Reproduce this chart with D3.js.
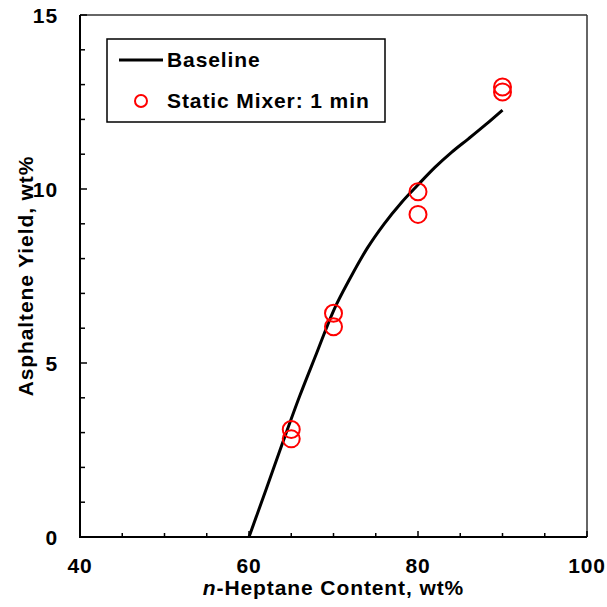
<!DOCTYPE html>
<html>
<head>
<meta charset="utf-8">
<script src="https://cdn.jsdelivr.net/npm/d3@7"></script>
<style>
  html, body { margin: 0; padding: 0; background: #fff; }
  svg { display: block; }
  text { font-family: "Liberation Sans", Arial, sans-serif; font-weight: bold; fill: #000;
         font-size: 21px; letter-spacing: 0.9px; }
</style>
</head>
<body>
<svg id="chart" width="607" height="607"></svg>
<script>
// Baseline yield curve (n-heptane wt%, asphaltene yield wt%)
const baselineX = [60, 62, 64, 66, 68, 70, 72, 74, 76, 78, 80, 82, 84, 86, 88, 90];
const baselineY = [0, 1.35, 2.72, 4.05, 5.28, 6.5, 7.45, 8.3, 9.0, 9.6, 10.12, 10.62, 11.06, 11.45, 11.85, 12.27];

// Static mixer (1 min) measurements
const mixerX = [65, 65, 70, 70, 80, 80, 90, 90];
const mixerY = [3.09, 2.82, 6.43, 6.04, 9.92, 9.27, 12.93, 12.79];

// Axis ticks
const xMajorTicks = [40, 60, 80, 100];
const xMinorTicks = [45, 50, 55, 65, 70, 75, 85, 90, 95];
const yMajorTicks = [0, 5, 10, 15];
const yMinorTicks = [1, 2, 3, 4, 6, 7, 8, 9, 11, 12, 13, 14];

const svg = d3.select("#chart");
const plotL = 80, plotR = 587, plotT = 15, plotB = 537;

const x = d3.scaleLinear().domain([40, 100]).range([plotL, plotR]);
const y = d3.scaleLinear().domain([0, 15]).range([plotB, plotT]);

// Frame: top and right edges
svg.append("line").attr("x1", plotL).attr("x2", plotR).attr("y1", plotT).attr("y2", plotT)
  .attr("stroke", "#333").attr("stroke-width", 1.5);
svg.append("line").attr("x1", plotR).attr("x2", plotR).attr("y1", plotT).attr("y2", plotB)
  .attr("stroke", "#333").attr("stroke-width", 1.5);

// Ticks pointing into the plot
const tickG = svg.append("g").attr("stroke", "#000").attr("stroke-width", 1.5);
tickG.selectAll(".xmaj").data(xMajorTicks).join("line")
  .attr("x1", d => x(d)).attr("x2", d => x(d)).attr("y1", plotB).attr("y2", plotB - 6);
tickG.selectAll(".xmin").data(xMinorTicks).join("line")
  .attr("x1", d => x(d)).attr("x2", d => x(d)).attr("y1", plotB).attr("y2", plotB - 4);
tickG.selectAll(".ymaj").data(yMajorTicks).join("line")
  .attr("x1", plotL).attr("x2", plotL + 7).attr("y1", d => y(d)).attr("y2", d => y(d));
tickG.selectAll(".ymin").data(yMinorTicks).join("line")
  .attr("x1", plotL).attr("x2", plotL + 5).attr("y1", d => y(d)).attr("y2", d => y(d));

// Left and bottom axis lines
svg.append("line").attr("x1", plotL).attr("x2", plotL).attr("y1", plotT).attr("y2", plotB + 1)
  .attr("stroke", "#000").attr("stroke-width", 2);
svg.append("line").attr("x1", plotL - 1).attr("x2", plotR).attr("y1", plotB).attr("y2", plotB)
  .attr("stroke", "#000").attr("stroke-width", 2);

// Tick labels
svg.selectAll(".xlab").data(xMajorTicks).join("text")
  .attr("x", d => x(d)).attr("y", 573)
  .attr("text-anchor", "middle")
  .text(d => d);
svg.selectAll(".ylab").data(yMajorTicks).join("text")
  .attr("x", 58).attr("y", d => y(d) + 7.5)
  .attr("text-anchor", "end")
  .text(d => d);

// Axis titles
const xt = svg.append("text").attr("x", (plotL + plotR) / 2).attr("y", 595)
  .attr("text-anchor", "middle");
xt.append("tspan").attr("font-style", "italic").text("n");
xt.append("tspan").text("-Heptane Content, wt%");

svg.append("text")
  .attr("transform", `translate(33,${(plotT + plotB) / 2}) rotate(-90)`)
  .attr("text-anchor", "middle")
  .text("Asphaltene Yield, wt%");

// Baseline curve
const baseline = baselineX.map((d, i) => [d, baselineY[i]]);
svg.append("path").datum(baseline)
  .attr("fill", "none").attr("stroke", "#000").attr("stroke-width", 3)
  .attr("d", d3.line().x(d => x(d[0])).y(d => y(d[1])).curve(d3.curveMonotoneX));

// Static mixer points
const pts = mixerX.map((d, i) => [d, mixerY[i]]);
svg.selectAll(".pt").data(pts).join("circle")
  .attr("cx", d => x(d[0])).attr("cy", d => y(d[1])).attr("r", 8.5)
  .attr("fill", "none").attr("stroke", "#f00").attr("stroke-width", 2);

// Legend
const lg = svg.append("g");
lg.append("rect").attr("x", 107).attr("y", 39).attr("width", 278).attr("height", 83)
  .attr("fill", "#fff").attr("stroke", "#000").attr("stroke-width", 1.5);
lg.append("line").attr("x1", 119).attr("x2", 163).attr("y1", 60).attr("y2", 60)
  .attr("stroke", "#000").attr("stroke-width", 3);
lg.append("text").attr("x", 167).attr("y", 67).text("Baseline");
lg.append("circle").attr("cx", 141).attr("cy", 101).attr("r", 6)
  .attr("fill", "none").attr("stroke", "#f00").attr("stroke-width", 2);
lg.append("text").attr("x", 167).attr("y", 108).text("Static Mixer: 1 min");
</script>
</body>
</html>
